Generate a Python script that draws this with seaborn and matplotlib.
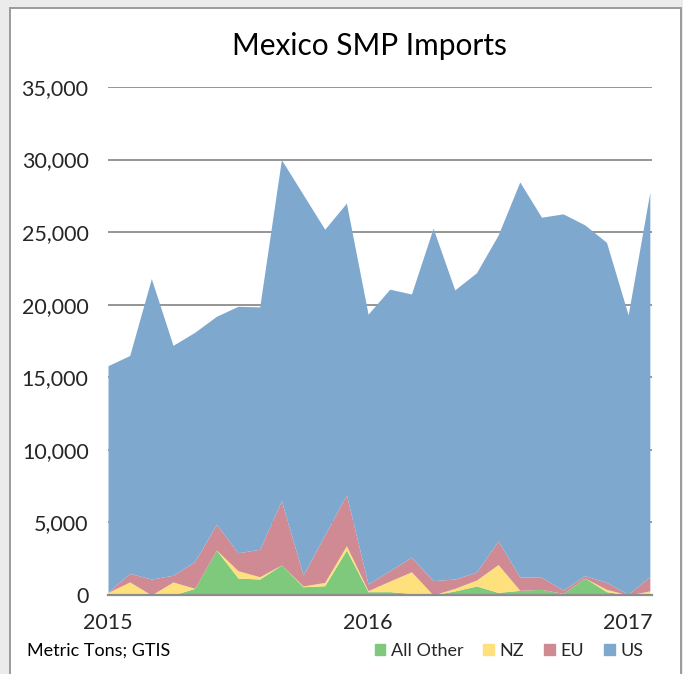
#Importing header files
import numpy as np
import matplotlib
matplotlib.use("Agg")
import matplotlib.pyplot as plt
import matplotlib.patches as mpatches
from matplotlib.ticker import FuncFormatter
import seaborn as sns

#Monthly Mexico SMP imports, metric tons
months = ["2015-01", "2015-02", "2015-03", "2015-04", "2015-05", "2015-06",
          "2015-07", "2015-08", "2015-09", "2015-10", "2015-11", "2015-12",
          "2016-01", "2016-02", "2016-03", "2016-04", "2016-05", "2016-06",
          "2016-07", "2016-08", "2016-09", "2016-10", "2016-11", "2016-12",
          "2017-01", "2017-02"]
all_other = [100, 50, 0, 0, 460, 3100, 1170, 1100, 2070, 570, 640, 3100,
             230, 230, 110, 0, 280, 620, 180, 320, 390, 110, 1170, 230, 0, 20]
nz = [80, 850, 0, 900, 0, 0, 500, 160, 0, 50, 230, 300,
      70, 730, 1490, 0, 180, 410, 1920, 0, 0, 0, 0, 160, 0, 260]
eu = [20, 590, 1100, 460, 1840, 1770, 1240, 1890, 4430, 760, 3270, 3500,
      460, 720, 1000, 990, 640, 550, 1620, 920, 830, 230, 160, 480, 50, 980]
us = [15600, 15010, 20700, 15840, 15800, 14330, 16980, 16700, 23500, 26220, 21060, 20100,
      18590, 19390, 18140, 24280, 19920, 20620, 21080, 27220, 24810, 25920, 24170, 23430,
      19250, 26490]
series_names = ["All Other", "NZ", "EU", "US"]
year_labels = ["2015", "2016", "2017"]
y_ticks = [0, 5000, 10000, 15000, 20000, 25000, 30000, 35000]

colors = ["#7fc97c", "#fee17c", "#d08a94", "#7fa8cf"]

#Theme first, then fonts (set_style resets font.family)
sns.set_style("white")
plt.rcParams['font.family'] = ['Liberation Sans Narrow', 'Lato', 'DejaVu Sans']

fig = plt.figure(figsize=(6.83, 6.74), dpi=100)
fig.patch.set_facecolor("#ebebeb")

#White panel with grey border, kept behind the axes
panel = mpatches.Rectangle((10/683, -0.02), 671/683, 1.02 - 8/674,
                           transform=fig.transFigure, facecolor="white",
                           edgecolor="#9a9a9a", linewidth=1.4, zorder=-5)
fig.patches.append(panel)

ax = fig.add_axes([108/683, 1 - 595/674, 544/683, 508/674])
ax.set_zorder(2)
ax.set_facecolor("none")

x = np.arange(len(months))
ax.stackplot(x, all_other, nz, eu, us, colors=colors, linewidth=0, zorder=2)

#Axes limits and grid
ax.set_ylim(0, 35000)
ax.set_xlim(0, 25.1)
ax.set_yticks(y_ticks)
ax.yaxis.set_major_formatter(FuncFormatter(lambda v, p: f"{int(v):,}"))
ax.grid(axis="y", color="#8c8c8c", linewidth=1.3, zorder=0)
ax.set_axisbelow(True)

ax.set_xticks([months.index(y + "-01") for y in year_labels])
ax.set_xticklabels(year_labels)
ax.tick_params(axis="y", length=0, pad=14, labelsize=15.5)
ax.tick_params(axis="x", length=0, pad=13, labelsize=15.5)

for s in ["left", "right", "top"]:
    ax.spines[s].set_visible(False)
ax.spines["bottom"].set_color("#8c8c8c")
ax.spines["bottom"].set_linewidth(1.6)

#Title and source note
fig.text(369/683, 1 - 46/674, "Mexico SMP Imports", ha="center", va="center",
         fontsize=21.5, color="black")
fig.text(27/683, 1 - 651/674, "Metric Tons; GTIS", ha="left", va="center",
         fontsize=13, color="black")

#Legend
handles = [mpatches.Patch(color=c, label=n) for c, n in zip(colors, series_names)]
fig.legend(handles=handles, loc="center right", bbox_to_anchor=(643/683, 1 - 651/674),
           ncol=4, frameon=False, fontsize=13, handlelength=0.6, handleheight=0.6,
           handletextpad=0.3, columnspacing=1.1, borderpad=0, borderaxespad=0)

fig.savefig("out.png", dpi=100, facecolor=fig.get_facecolor())
